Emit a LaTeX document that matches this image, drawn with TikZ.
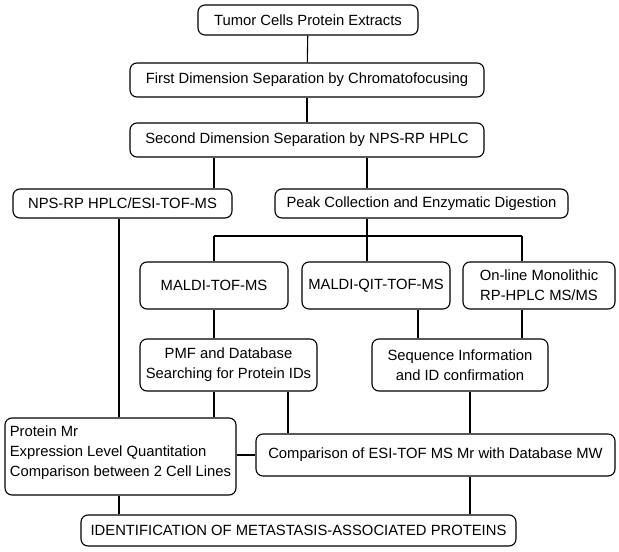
\documentclass[tikz,border=0pt]{standalone}
\usepackage{fontspec}
\setmainfont{Liberation Sans}

\begin{document}
\begin{tikzpicture}[x=1pt,y=-1pt,
  box/.style={draw,rounded corners=7pt,line width=1.1pt,inner sep=0pt,align=center,
    font=\fontsize{14.8}{20}\selectfont},
  link/.style={line width=1.1pt}]
\useasboundingbox (0,0) rectangle (619,552);
% boxes
\node[box,minimum width=220pt,minimum height=30pt] at (308,20) (tumor) {Tumor Cells Protein Extracts};
\node[box,minimum width=354pt,minimum height=34pt] at (307,80) (firstdim) {First Dimension Separation by Chromatofocusing};
\node[box,minimum width=354pt,minimum height=34pt] at (307,140) (seconddim) {Second Dimension Separation by NPS-RP HPLC};
\node[box,minimum width=219pt,minimum height=29pt] at (122.5,203.5) (esitof) {NPS-RP HPLC/ESI-TOF-MS};
\node[box,minimum width=293pt,minimum height=29pt] at (421.5,203.5) (peak) {Peak Collection and Enzymatic Digestion};
\node[box,minimum width=148pt,minimum height=47pt] at (214,285.5) (malditof) {MALDI-TOF-MS};
\node[box,minimum width=148pt,minimum height=47pt] at (376,285.5) (maldiqit) {MALDI-QIT-TOF-MS};
\node[box,minimum width=152pt,minimum height=47pt] at (539,285.5) (online) {On-line Monolithic\\RP-HPLC MS/MS};
\node[box,minimum width=177pt,minimum height=52pt] at (228.5,365) (pmf) {PMF and Database\\Searching for Protein IDs};
\node[box,minimum width=176pt,minimum height=52pt] at (460,365) (seqinfo) {Sequence Information\\and ID confirmation};
\node[box,minimum width=231pt,minimum height=77pt,align=left] at (120.5,456.5) (proteinmr) {Protein Mr\\Expression Level Quantitation\\Comparison between 2 Cell Lines\\[-9pt]\mbox{}};
\node[box,minimum width=359pt,minimum height=42pt] at (435.5,455) (compare) {Comparison of ESI-TOF MS Mr with Database MW};
\node[box,minimum width=435pt,minimum height=31pt] at (298.5,530.5) (ident) {IDENTIFICATION OF METASTASIS-ASSOCIATED PROTEINS};
% columns of the connectors
\coordinate (colA) at (119,0);
\coordinate (colB) at (214,0);
\coordinate (colC) at (367,0);
\coordinate (colD) at (418,0);
\coordinate (colE) at (522,0);
\coordinate (colF) at (288,0);
\coordinate (colG) at (470,0);
\coordinate (bar) at (0,236);
% connectors
\draw[link] (tumor) -- (firstdim);
\draw[link] (firstdim) -- (seconddim);
\foreach \col/\tgt in {colB/esitof,colC/peak}{
  \draw[link] (seconddim.south -| \col) -- (\tgt.north -| \col);
};
\draw[link] (peak.south -| colC) -- (bar -| colC);
\draw[link] (bar -| colB) -- (bar -| colE);
\foreach \col/\tgt in {colB/malditof,colC/maldiqit,colE/online}{
  \draw[link] (bar -| \col) -- (\tgt.north -| \col);
};
\draw[link] (malditof.south -| colB) -- (pmf.north -| colB);
\foreach \col/\src in {colD/maldiqit,colE/online}{
  \draw[link] (\src.south -| \col) -- (seqinfo.north -| \col);
};
\draw[link] (esitof.south -| colA) -- (proteinmr.north -| colA);
\draw[link] (pmf.south -| colB) -- (proteinmr.north -| colB);
\draw[link] (pmf.south -| colF) -- (compare.north -| colF);
\draw[link] (seqinfo.south -| colG) -- (compare.north -| colG);
\draw[link] (proteinmr.east |- compare.west) -- (compare.west);
\draw[link] (proteinmr.south -| colA) -- (ident.north -| colA);
\draw[link] (compare.south -| colG) -- (ident.north -| colG);
\end{tikzpicture}
\end{document}
